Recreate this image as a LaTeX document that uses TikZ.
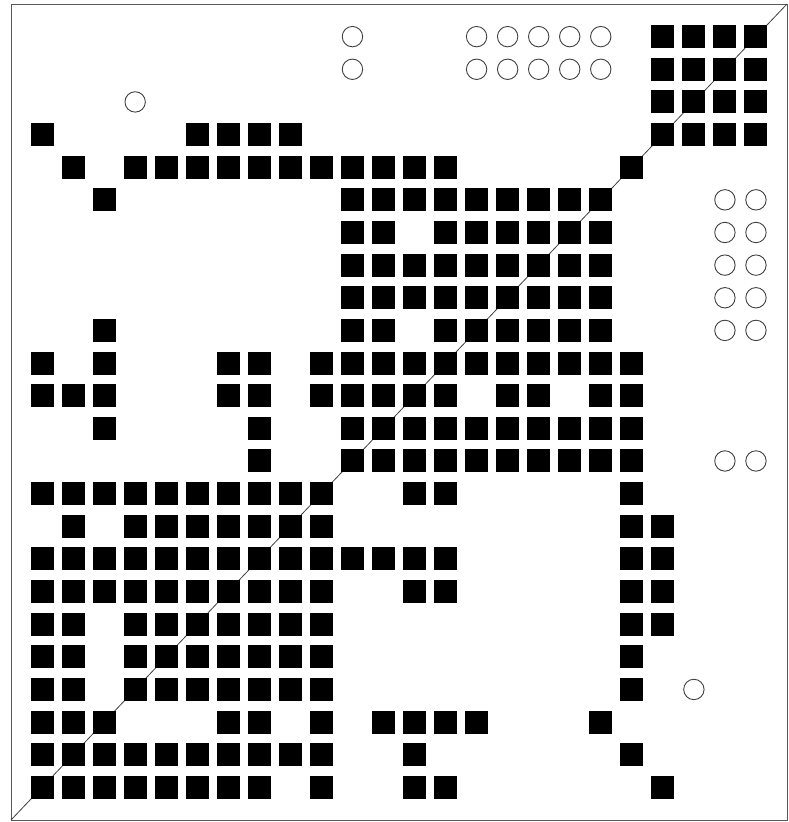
\documentclass[tikz,border=0pt]{standalone}
\begin{document}
\begin{tikzpicture}[x=1pt,y=-1pt,
  sq/.style={fill=black},
  circ/.style={draw=black!75,line width=0.9pt},
  frame/.style={draw=black!65,line width=1pt}]
\useasboundingbox (0,0) rectangle (788,822);
\fill[white] (0,0) rectangle (788,822);
\def\cx#1{11+31.04*#1}
\def\cy#1{4+32.64*#1}
\draw[frame] (11,4) rectangle (787,820);
\coordinate (bl) at (11,820);
\coordinate (tr) at (787,4);
\draw[black!75,line width=0.8pt] (bl) -- (tr);
% filled squares: row / columns
\foreach \r/\cols in {
  1/{21,22,23,24},
  2/{21,22,23,24},
  3/{21,22,23,24},
  4/{1,6,7,8,9,21,22,23,24},
  5/{2,4,5,...,14,20},
  6/{3,11,12,...,19},
  7/{11,12,14,15,...,19},
  8/{11,12,...,19},
  9/{11,12,...,19},
  10/{3,11,12,14,15,...,19},
  11/{1,3,7,8,10,11,...,20},
  12/{1,2,3,7,8,10,11,12,13,14,16,17,19,20},
  13/{3,8,11,12,...,20},
  14/{8,11,12,...,20},
  15/{1,2,...,10,13,14,20},
  16/{2,4,5,...,10,20,21},
  17/{1,2,...,14,20,21},
  18/{1,2,...,10,13,14,20,21},
  19/{1,2,4,5,...,10,20,21},
  20/{1,2,4,5,...,10,20},
  21/{1,2,4,5,...,10,20},
  22/{1,2,3,7,8,10,12,13,14,15,19},
  23/{1,2,...,10,13,20},
  24/{1,2,...,8,10,13,14,21}}{
  \foreach \c in \cols {
    \fill[sq] ({\cx{\c}-11.5},{\cy{\r}-11.5}) rectangle ++(23,23);
  }
}
% open circles
\foreach \r/\cols in {
  1/{11,15,16,17,18,19},
  2/{11,15,16,17,18,19},
  3/{4},
  6/{23,24},
  7/{23,24},
  8/{23,24},
  9/{23,24},
  10/{23,24},
  14/{23,24},
  21/{22}}{
  \foreach \c in \cols {
    \draw[circ] ({\cx{\c}},{\cy{\r}}) circle[radius=10.2];
  }
}
\end{tikzpicture}
\end{document}
